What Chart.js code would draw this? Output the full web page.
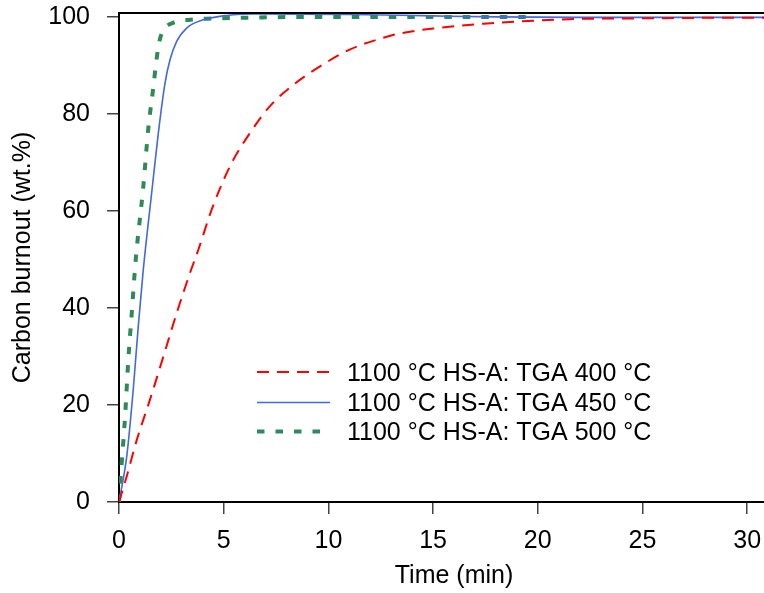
<!DOCTYPE html>
<html>
<head>
<meta charset="utf-8">
<script src="https://cdn.jsdelivr.net/npm/chart.js@4/dist/chart.umd.min.js"></script>
<style>
  html, body { margin: 0; padding: 0; background: #fff; overflow: hidden; }
  #wrap { width: 800px; height: 593px; }
</style>
</head>
<body>
<div id="wrap"><canvas id="c" width="800" height="593"></canvas></div>
<script>
// Carbon burnout curves, 1100 °C HS-A char, TGA at three temperatures
const time400 = [0, 0.37, 0.85, 1.48, 2.12, 2.76, 3.39, 3.79, 4.43, 5.3, 6.26, 7.21, 8.33, 9.6, 11.04, 12.63, 13.43, 15.0, 17.4, 19.8, 22.2, 25.2, 28.0, 32.0];
const burnout400 = [0, 5.3, 12.8, 21.1, 30.0, 39.0, 47.2, 52.0, 60.3, 69.2, 76.1, 81.6, 86.0, 89.8, 93.3, 95.7, 96.6, 97.6, 98.6, 99.2, 99.6, 99.7, 99.8, 99.8];

const time450 = [0, 0.37, 0.68, 0.92, 1.16, 1.56, 1.88, 2.2, 2.44, 2.76, 3.23, 4.03, 5.15, 6.5, 11.0, 15.0, 18.0, 22.0, 32.0];
const burnout450 = [0, 9.4, 23.2, 36.2, 47.9, 63.7, 76.1, 86.4, 91.2, 95.0, 97.7, 99.4, 100.3, 100.6, 100.5, 100.2, 100.0, 99.9, 99.9];

const time500 = [0, 0.13, 0.29, 0.44, 0.61, 0.8, 1.16, 1.4, 1.64, 1.8, 1.96, 2.2, 2.6, 3.4, 5.8, 11.0, 19.5];
const burnout500 = [0, 8.0, 17.6, 29.0, 39.0, 50.0, 65.0, 77.0, 85.5, 91.5, 95.5, 97.7, 98.8, 99.4, 99.8, 100.0, 100.0];

const seriesLabels = [
  '1100 °C HS-A: TGA 400 °C',
  '1100 °C HS-A: TGA 450 °C',
  '1100 °C HS-A: TGA 500 °C'
];
const xTicks = [0, 5, 10, 15, 20, 25, 30];
const yTicks = [0, 20, 40, 60, 80, 100];

const FONT = '"Liberation Sans", Arial, Helvetica, sans-serif';
Chart.defaults.font.family = FONT;
Chart.defaults.color = '#000';

const pairs = (xs, ys) => xs.map((x, i) => ({ x: x, y: ys[i] }));

// Frame line along the top of the plot area
const topFrame = {
  id: 'topFrame',
  afterDraw(chart) {
    const { ctx, chartArea } = chart;
    ctx.save();
    ctx.strokeStyle = '#000';
    ctx.lineWidth = 2;
    ctx.beginPath();
    ctx.moveTo(chartArea.left - 1, chartArea.top);
    ctx.lineTo(chartArea.right, chartArea.top);
    ctx.stroke();
    ctx.restore();
  }
};

// Legend drawn inside the plot, line sample + label
const insideLegend = {
  id: 'insideLegend',
  afterDatasetsDraw(chart) {
    const { ctx } = chart;
    const rows = [372, 402.5, 431.5];
    chart.data.datasets.forEach((ds, i) => {
      const y = rows[i];
      ctx.save();
      ctx.strokeStyle = ds.borderColor;
      ctx.lineWidth = ds.borderWidth;
      ctx.lineCap = 'butt';
      ctx.setLineDash(ds.borderDash || []);
      ctx.beginPath();
      ctx.moveTo(257, y);
      ctx.lineTo(330, y);
      ctx.stroke();
      ctx.setLineDash([]);
      ctx.fillStyle = '#000';
      ctx.font = '25px ' + FONT;
      ctx.textBaseline = 'middle';
      ctx.textAlign = 'left';
      ctx.fillText(ds.label, 347, y + 2);
      ctx.restore();
    });
  }
};

new Chart(document.getElementById('c'), {
  type: 'line',
  data: {
    datasets: [
      {
        label: seriesLabels[0],
        data: pairs(time400, burnout400),
        borderColor: '#FF0000',
        borderWidth: 2,
        borderDash: [12, 8],
        cubicInterpolationMode: 'monotone'
      },
      {
        label: seriesLabels[1],
        data: pairs(time450, burnout450),
        borderColor: '#4169E1',
        borderWidth: 1.6,
        cubicInterpolationMode: 'monotone'
      },
      {
        label: seriesLabels[2],
        data: pairs(time500, burnout500),
        borderColor: '#2E8B57',
        borderWidth: 4,
        borderDash: [7.5, 11],
        borderCapStyle: 'butt',
        cubicInterpolationMode: 'monotone'
      }
    ]
  },
  options: {
    responsive: false,
    animation: false,
    events: [],
    layout: { padding: { top: 13, right: 11, left: 0, bottom: 0 } },
    elements: { point: { radius: 0 } },
    plugins: { legend: { display: false }, tooltip: { enabled: false } },
    scales: {
      x: {
        type: 'linear',
        min: 0,
        max: 32,
        afterBuildTicks: s => { s.ticks = xTicks.map(v => ({ value: v })); },
        afterFit: s => { s.height = 91; s.paddingLeft = 0; s.paddingRight = 0; },
        grid: { drawOnChartArea: false, drawTicks: true, tickLength: 12, color: '#444', lineWidth: 1.5 },
        border: { display: true, color: '#000', width: 2 },
        ticks: { color: '#000', font: { size: 25 }, padding: 12, maxRotation: 0, autoSkip: false },
        title: { display: true, text: 'Time (min)', color: '#000', font: { size: 25, lineHeight: 1 }, padding: { top: 0, bottom: 4 } }
      },
      y: {
        type: 'linear',
        min: 0,
        max: 100.8,
        afterBuildTicks: s => { s.ticks = yTicks.map(v => ({ value: v })); },
        afterFit: s => { s.width = 119; s.paddingTop = 0; s.paddingBottom = 0; },
        grid: { drawOnChartArea: false, drawTicks: true, tickLength: 12, color: '#444', lineWidth: 1.5 },
        border: { display: true, color: '#000', width: 2 },
        ticks: { color: '#000', font: { size: 25 }, padding: 17, autoSkip: false },
        title: { display: true, text: 'Carbon burnout (wt.%)', color: '#000', font: { size: 25, lineHeight: 1 }, padding: { top: 11, bottom: 0 } }
      }
    }
  },
  plugins: [topFrame, insideLegend]
});
</script>
</body>
</html>
